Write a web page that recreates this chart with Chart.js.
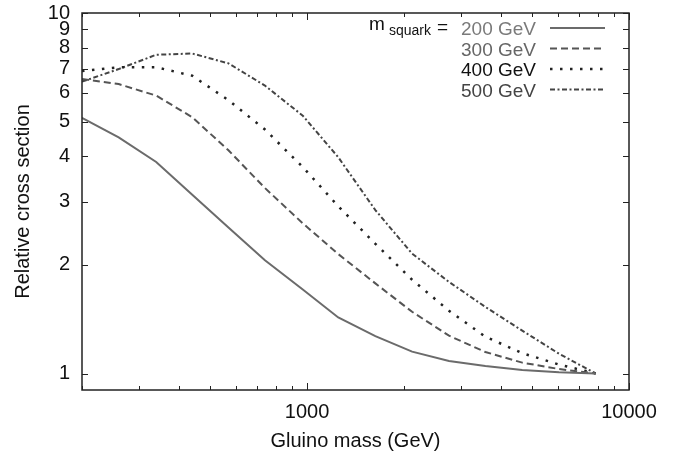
<!DOCTYPE html>
<html>
<head>
<meta charset="utf-8">
<script src="https://cdn.jsdelivr.net/npm/chart.js@4/dist/chart.umd.min.js"></script>
<style>
  html, body { margin: 0; padding: 0; background: #fff; }
  #wrap { width: 681px; height: 455px; position: relative; }
</style>
</head>
<body>
<div id="wrap"><canvas id="c" width="681" height="455"></canvas></div>
<script>
// ---- data ----
const gluinoMass = [200, 260, 340, 440, 570, 740, 970, 1250, 1630, 2120, 2760, 3580, 4660, 6060, 7880];
const sq200 = [5.12, 4.52, 3.86, 3.13, 2.54, 2.06, 1.71, 1.43, 1.27, 1.15, 1.083, 1.049, 1.022, 1.008, 1.0];
const sq300 = [6.56, 6.35, 5.90, 5.14, 4.16, 3.27, 2.61, 2.145, 1.778, 1.483, 1.273, 1.147, 1.072, 1.029, 1.0];
const sq400 = [6.90, 7.07, 7.07, 6.70, 5.73, 4.75, 3.74, 2.91, 2.29, 1.82, 1.493, 1.265, 1.139, 1.059, 1.0];
const sq500 = [6.45, 6.99, 7.66, 7.72, 7.25, 6.29, 5.19, 3.98, 2.84, 2.15, 1.795, 1.53, 1.315, 1.135, 1.0];
const seriesLabels = ["200 GeV", "300 GeV", "400 GeV", "500 GeV"];
const xTickValues = [1000, 10000];
const xMinorValues = [200, 300, 400, 500, 600, 700, 800, 900, 2000, 3000, 4000, 5000, 6000, 7000, 8000, 9000];
const yTickValues = [1, 2, 3, 4, 5, 6, 7, 8, 9, 10];

const FONT = '"Liberation Sans", Arial, Helvetica, sans-serif';
const styles = [
  { color: '#6b6b6b', text: '#7a7a7a', dash: [], width: 2 },
  { color: '#555555', text: '#666666', dash: [7, 4], width: 2 },
  { color: '#222222', text: '#111111', dash: [2.5, 7.5], width: 2.5 },
  { color: '#444444', text: '#444444', dash: [5, 2.5, 2, 2.5], width: 2 }
];
const seriesValues = [sq200, sq300, sq400, sq500];

const datasets = seriesValues.map((vals, i) => ({
  label: seriesLabels[i],
  data: gluinoMass.map((m, j) => ({ x: m, y: vals[j] })),
  borderColor: styles[i].color,
  borderWidth: styles[i].width,
  borderDash: styles[i].dash,
  pointRadius: 0,
  tension: 0,
  fill: false
}));

const framePlugin = {
  id: 'frame',
  afterDraw(chart) {
    const { ctx, chartArea: a, scales } = chart;
    const xs = scales.x, ys = scales.y;
    ctx.save();
    ctx.strokeStyle = '#222';
    ctx.lineWidth = 1.5;
    ctx.setLineDash([]);
    ctx.strokeRect(a.left, a.top, a.right - a.left, a.bottom - a.top);
    ctx.lineWidth = 1;
    ctx.beginPath();
    xMinorValues.forEach(v => {
      const px = Math.round(xs.getPixelForValue(v)) + 0.5;
      ctx.moveTo(px, a.bottom); ctx.lineTo(px, a.bottom - 4);
      ctx.moveTo(px, a.top); ctx.lineTo(px, a.top + 4);
    });
    xTickValues.forEach(v => {
      const px = Math.round(xs.getPixelForValue(v)) + 0.5;
      ctx.moveTo(px, a.bottom); ctx.lineTo(px, a.bottom - 7);
      ctx.moveTo(px, a.top); ctx.lineTo(px, a.top + 7);
    });
    yTickValues.forEach(v => {
      const py = Math.round(ys.getPixelForValue(v)) + 0.5;
      ctx.moveTo(a.left, py); ctx.lineTo(a.left + 6, py);
      ctx.moveTo(a.right, py); ctx.lineTo(a.right - 6, py);
    });
    ctx.stroke();

    // legend
    const textRight = 536, lineL = 550, lineR = 605;
    const rowY = [28, 48.5, 69, 89.5];
    ctx.font = '19px ' + FONT;
    ctx.textBaseline = 'alphabetic';
    ctx.textAlign = 'right';
    seriesLabels.forEach((lab, i) => {
      ctx.fillStyle = styles[i].text;
      ctx.fillText(lab, textRight, rowY[i] + 7);
      ctx.strokeStyle = styles[i].color;
      ctx.lineWidth = styles[i].width;
      ctx.setLineDash(styles[i].dash);
      ctx.beginPath();
      ctx.moveTo(lineL, rowY[i]);
      ctx.lineTo(lineR, rowY[i]);
      ctx.stroke();
    });
    ctx.setLineDash([]);
    ctx.fillStyle = '#111';
    ctx.textAlign = 'left';
    ctx.font = '19px ' + FONT;
    ctx.fillText('m', 369, 30);
    ctx.font = '14px ' + FONT;
    ctx.fillText('squark', 389, 35);
    ctx.font = '19px ' + FONT;
    ctx.fillText('=', 437, 33);
    ctx.restore();
  }
};

new Chart(document.getElementById('c'), {
  type: 'line',
  data: { datasets },
  options: {
    responsive: false,
    animation: false,
    events: [],
    layout: { padding: { left: 0, right: 52, top: 13, bottom: 0 } },
    plugins: { legend: { display: false }, tooltip: { enabled: false } },
    scales: {
      x: {
        type: 'logarithmic',
        min: 200, max: 10000,
        grid: { display: false, drawTicks: false },
        border: { display: false },
        afterBuildTicks(s) { s.ticks = xTickValues.map(v => ({ value: v })); },
        afterFit(s) { s.height = 65; s.paddingLeft = 0; s.paddingRight = 0; },
        ticks: {
          autoSkip: false, maxRotation: 0, padding: 10,
          color: '#111', font: { family: FONT, size: 20 },
          callback: (v) => String(v)
        },
        title: {
          display: true, text: 'Gluino mass (GeV)', color: '#111',
          font: { family: FONT, size: 20 }, padding: { top: 0, bottom: 2 }
        }
      },
      y: {
        type: 'logarithmic',
        min: 0.9, max: 10,
        grid: { display: false, drawTicks: false },
        border: { display: false },
        afterBuildTicks(s) { s.ticks = yTickValues.map(v => ({ value: v })); },
        afterFit(s) { s.width = 82; s.paddingTop = 0; s.paddingBottom = 0; },
        ticks: {
          autoSkip: false, padding: 12,
          color: '#111', font: { family: FONT, size: 20 },
          callback: (v) => String(v)
        },
        title: {
          display: true, text: 'Relative cross section', color: '#111',
          font: { family: FONT, size: 20 }, padding: { top: 11, bottom: 0 }
        }
      }
    }
  },
  plugins: [framePlugin]
});
</script>
</body>
</html>
